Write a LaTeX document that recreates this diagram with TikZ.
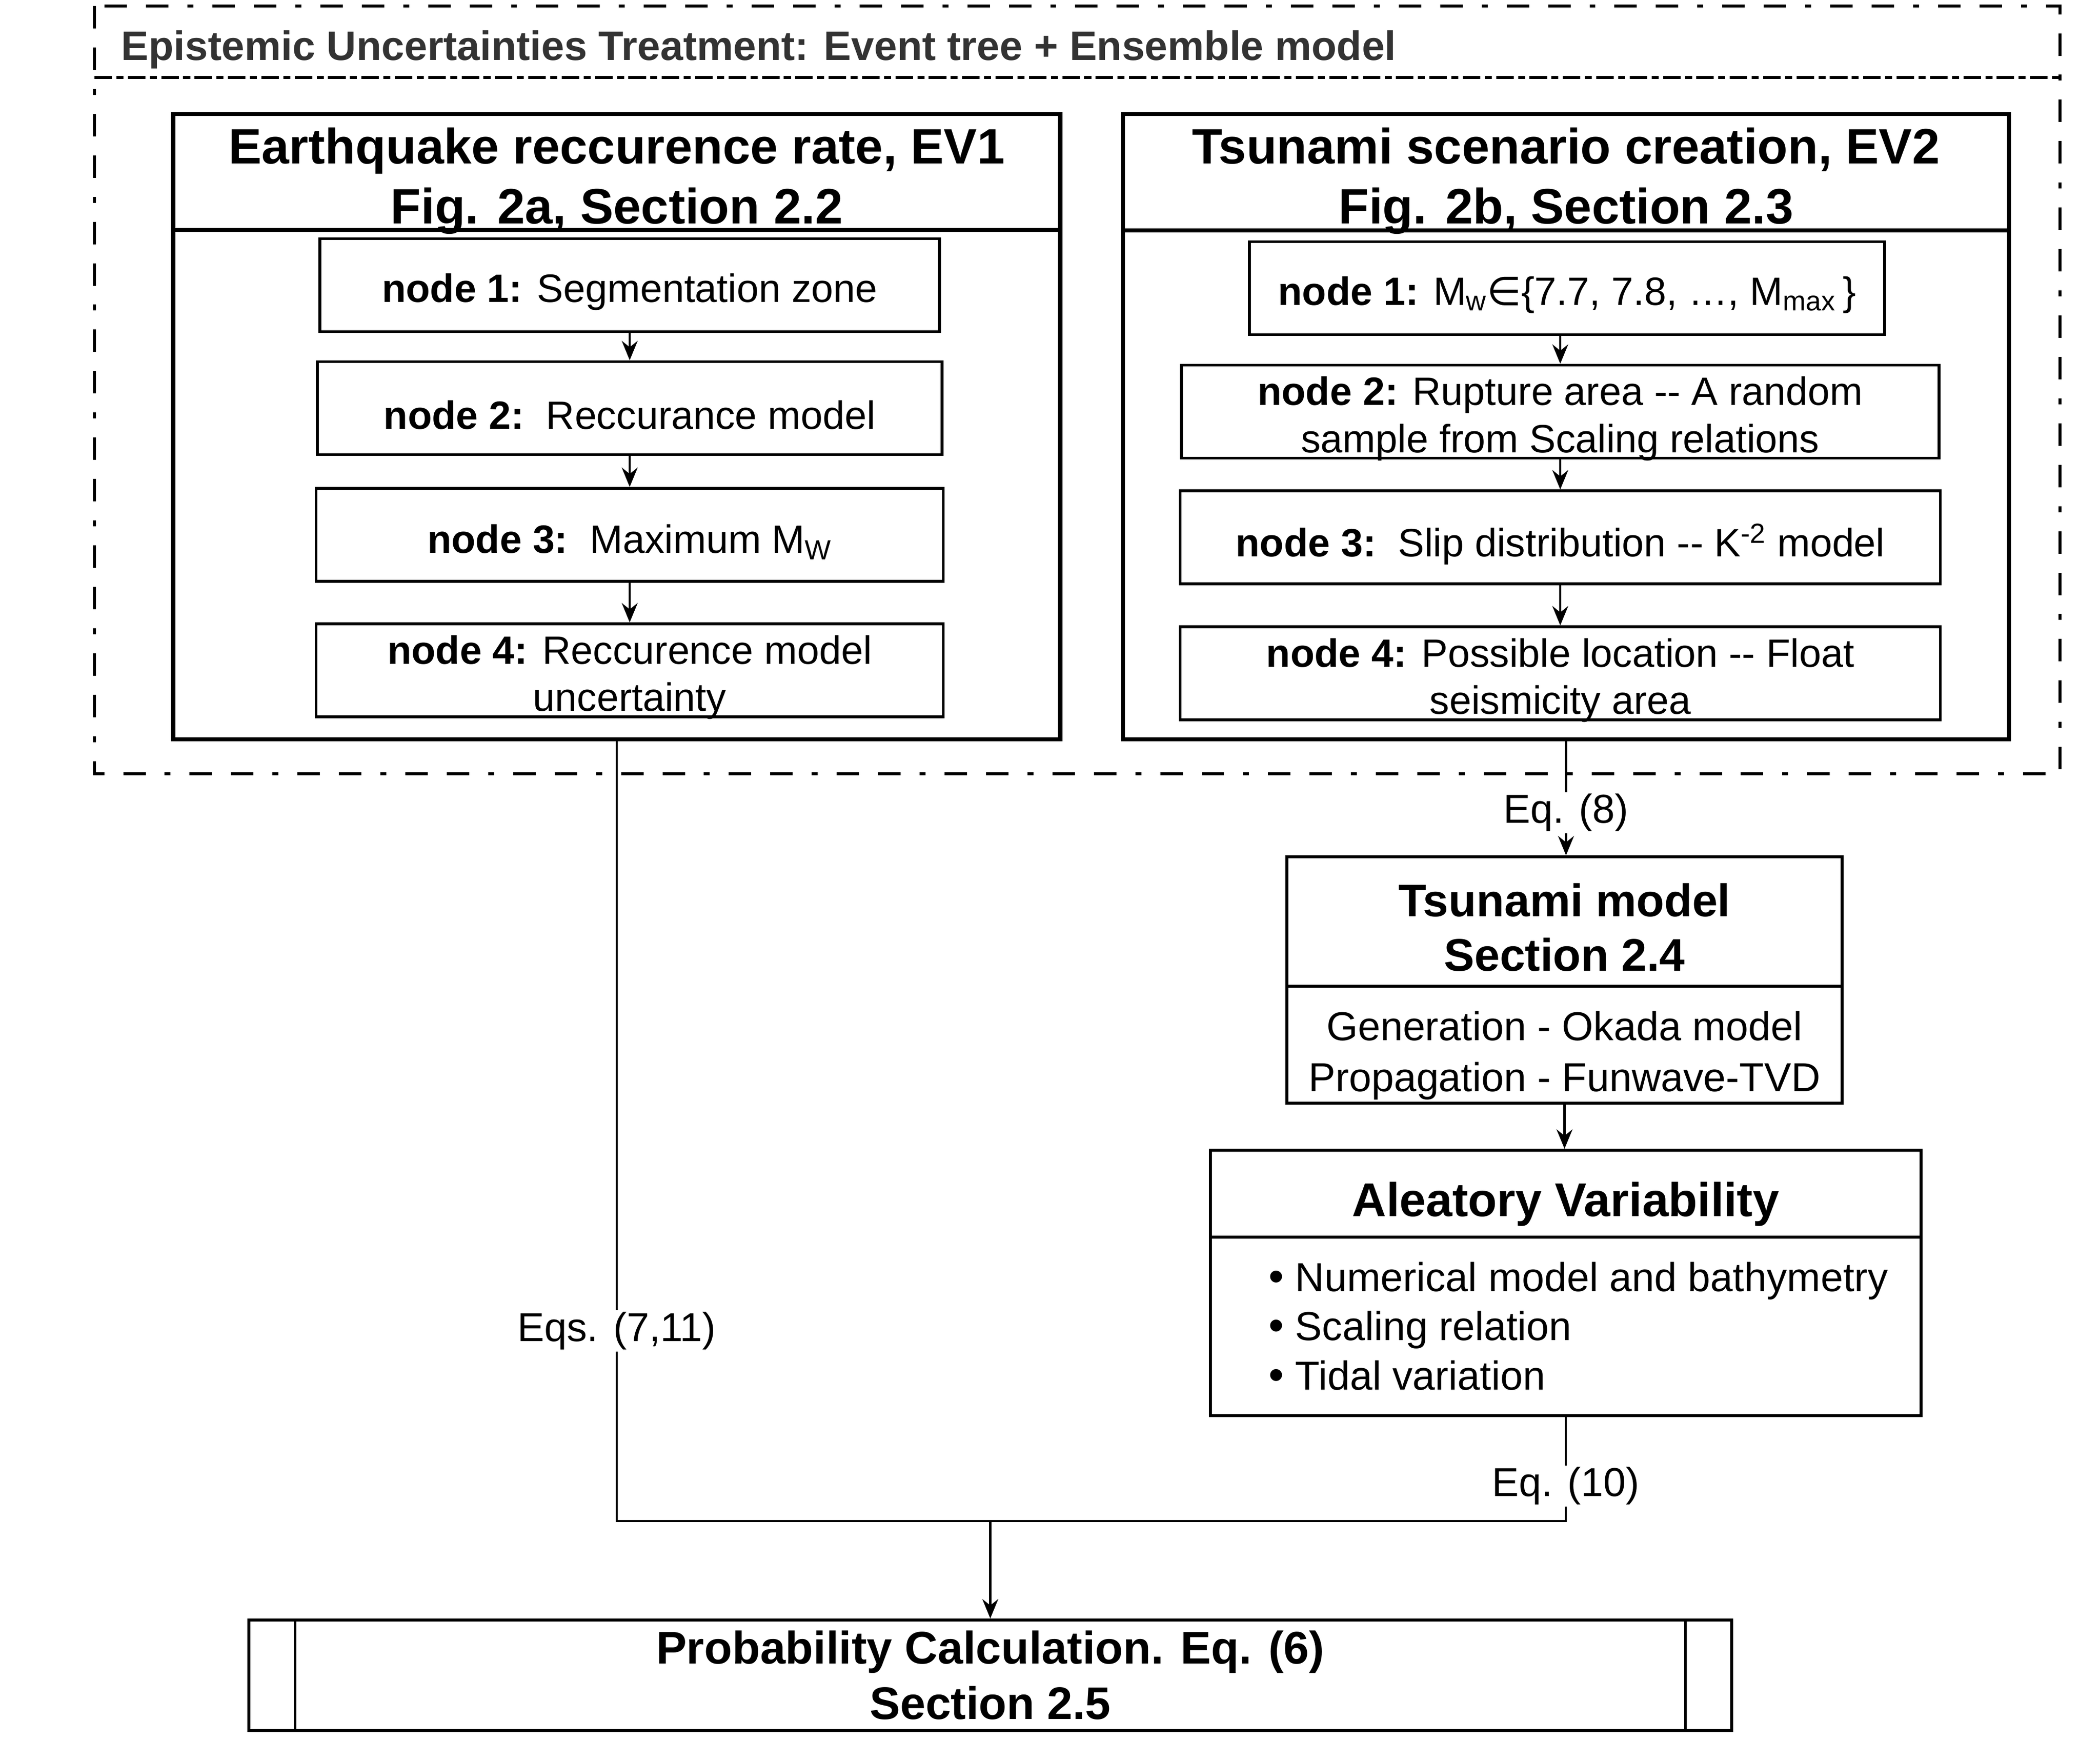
\documentclass[tikz,border=0pt]{standalone}
\usepackage{fontspec}
\setmainfont{Liberation Sans}
\newfontfamily\dejavu{DejaVu Sans}
\usetikzlibrary{arrows.meta,positioning}
\newcommand{\bul}{{\fontsize{25}{28}\selectfont\textbullet}}
\tikzset{
  evbox/.style={draw, line width=2.4pt, minimum width=17.75cm, minimum height=12.51cm},
  nodebox/.style={draw, line width=1.6pt, minimum height=1.86cm, inner sep=0pt},
  nodetext/.style={align=center, inner sep=0pt, yshift=-0.14cm, font=\fontsize{22.5}{27}\selectfont},
  plainbox/.style={draw, line width=1.6pt},
  evtitle/.style={align=center, font=\bfseries\fontsize{28.3}{34}\selectfont},
  arr/.style={-{Stealth[length=11pt,width=9pt]}, line width=1.2pt},
  lbl/.style={fill=white, inner sep=1pt, font=\fontsize{23}{28}\selectfont},
}
\begin{document}
\begin{tikzpicture}
\useasboundingbox (0,0) rectangle (42.02,-34.81);
% epistemic frame
\draw[line width=1.5pt, dash pattern=on 12.8pt off 10.8pt on 12.8pt off 10.8pt on 3.4pt off 10.8pt]
  (1.89,-0.12) rectangle (41.22,-15.48);
\draw[line width=1.7pt, dash pattern=on 10pt off 2.5pt on 4pt off 2.5pt] (1.89,-1.55) -- (41.22,-1.55);
\node[anchor=base west, inner sep=0pt, text=black!80, font=\bfseries\fontsize{23.4}{28}\selectfont] (epi)
  at (2.42,-1.20) {Epistemic Uncertainties Treatment: Event tree + Ensemble model};
% EV1
\node[evbox] (ev1) at (12.34,-8.535) {};
\draw[line width=2.4pt] ([yshift=-2.36cm]ev1.north west) -- ([yshift=-2.36cm]ev1.north east);
\node[evtitle] (ev1title) at (12.34,-3.62) {Earthquake reccurence rate, EV1\\Fig. 2a, Section 2.2};
\node[nodebox, minimum width=12.4cm] (n1) at (12.6,-5.705) {};
\node[nodebox, minimum width=12.5cm] (n2) at (12.6,-8.165) {};
\node[nodebox, minimum width=12.55cm] (n3) at (12.6,-10.70) {};
\node[nodebox, minimum width=12.55cm] (n4) at (12.6,-13.41) {};
\node[nodetext] (t1) at (n1) {\textbf{node 1:} Segmentation zone};
\node[nodetext] (t2) at (n2) {\textbf{node 2:}\ \ Reccurance model};
\node[nodetext] (t3) at (n3) {\textbf{node 3:}\ \ Maximum M\textsubscript{W}};
\node[nodetext] (t4) at (n4) {\textbf{node 4:} Reccurence model\\uncertainty};
\foreach \a/\b in {n1/n2,n2/n3,n3/n4}
  \draw[arr] (\a) -- (\b);
% EV2
\node[evbox, minimum width=17.73cm] (ev2) at (31.335,-8.535) {};
\draw[line width=2.4pt] ([yshift=-2.37cm]ev2.north west) -- ([yshift=-2.37cm]ev2.north east);
\node[evtitle] (ev2title) at (31.335,-3.62) {Tsunami scenario creation, EV2\\Fig. 2b, Section 2.3};
\node[nodebox, minimum width=12.71cm] (m1) at (31.355,-5.765) {};
\node[nodebox, minimum width=15.16cm] (m2) at (31.22,-8.235) {};
\node[nodebox, minimum width=15.21cm] (m3) at (31.22,-10.75) {};
\node[nodebox, minimum width=15.21cm] (m4) at (31.22,-13.47) {};
\node[nodetext] (s1) at (m1)
  {\textbf{node 1:} M\textsubscript{w}{\dejavu ∈}\{7.7, 7.8, …, M\textsubscript{max}\,\}};
\node[nodetext] (s2) at (m2) {\textbf{node 2:} Rupture area -{}- A random\\sample from Scaling relations};
\node[nodetext] (s3) at (m3) {\textbf{node 3:}\ \ Slip distribution -{}- K\textsuperscript{-2} model};
\node[nodetext] (s4) at (m4) {\textbf{node 4:} Possible location -{}- Float\\seismicity area};
\draw[arr] (m1.south -| m2.north) -- (m2.north);
\foreach \a/\b in {m2/m3,m3/m4}
  \draw[arr] (\a) -- (\b);
% tsunami model
\node[plainbox, minimum width=11.11cm, minimum height=4.93cm] (tsu) at (31.305,-19.605) {};
\draw[line width=1.6pt] ([yshift=-2.62cm]tsu.north west) -- ([yshift=-2.62cm]tsu.north east);
\node[align=center, font=\bfseries\fontsize{26}{31}\selectfont] (tsutitle) at (31.305,-18.55)
  {Tsunami model\\Section 2.4};
\node[align=center, font=\fontsize{23}{29}\selectfont] (tsubody) at (31.305,-21.12)
  {Generation - Okada model\\Propagation - Funwave-TVD};
% aleatory variability
\node[plainbox, minimum width=14.22cm, minimum height=5.31cm] (alea) at (31.33,-25.665) {};
\draw[line width=1.6pt] ([yshift=-1.77cm]alea.north west) -- ([yshift=-1.77cm]alea.north east);
\node[anchor=base, font=\bfseries\fontsize{27}{32}\selectfont] (aleatitle) at (31.33,-24.33)
  {Aleatory Variability};
\node[anchor=north west, align=left, inner sep=0pt, font=\fontsize{23}{28}\selectfont] (aleabody)
  at (25.38,-25.24)
  {\bul\ Numerical model and bathymetry\\\bul\ Scaling relation\\\bul\ Tidal variation};
% probability calculation
\node[draw, line width=1.8pt, minimum width=29.67cm, minimum height=2.21cm, align=center,
  font=\bfseries\fontsize{26}{31.5}\selectfont] (prob) at (19.815,-33.515)
  {Probability Calculation. Eq. (6)\\Section 2.5};
\draw[line width=1.4pt] ([xshift=0.96cm]prob.north west) -- ([xshift=0.96cm]prob.south west);
\draw[line width=1.4pt] ([xshift=-0.96cm]prob.north east) -- ([xshift=-0.96cm]prob.south east);
% connectors
\coordinate (join) at (prob.north |- 0,-30.43);
\draw[arr] (ev2.south) -- node[lbl, pos=0.625] {Eq. (8)} (ev2.south |- tsu.north);
\draw[arr] (tsu.south) -- (tsu.south |- alea.north);
\draw[line width=1.2pt] (ev1.south) -- node[lbl, pos=0.756] {Eqs. (7,11)} (ev1.south |- join)
  -- (alea.south |- join) -- node[lbl, pos=0.336] {Eq. (10)} (alea.south);
\draw[arr] (join) -- (prob.north);
\end{tikzpicture}
\end{document}
